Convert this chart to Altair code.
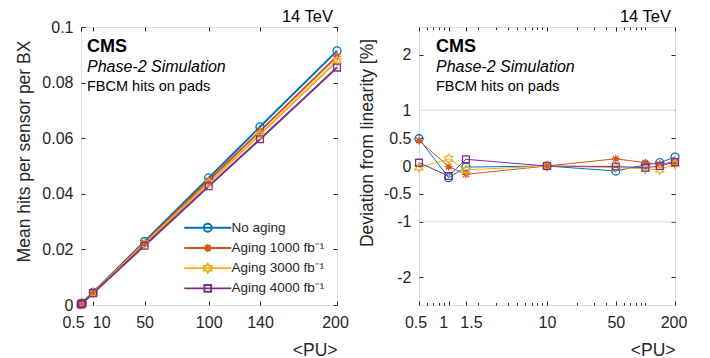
import altair as alt
import pandas as pd
import math

# ---------------- data ----------------
pu = [0.5, 1, 1.5, 10, 50, 100, 140, 200]
series = ["No aging", "Aging 1000 fb\u207b\u00b9", "Aging 3000 fb\u207b\u00b9", "Aging 4000 fb\u207b\u00b9"]

hits_no = [0.00023, 0.00046, 0.00069, 0.00457, 0.02284, 0.04570, 0.06410, 0.09140]
hits_1000 = [0.00022, 0.00045, 0.00067, 0.00448, 0.02240, 0.04478, 0.06255, 0.08950]
hits_3000 = [0.00022, 0.00044, 0.00066, 0.00439, 0.02195, 0.04390, 0.06130, 0.08780]
hits_4000 = [0.00021, 0.00043, 0.00064, 0.00427, 0.02135, 0.04270, 0.05960, 0.08540]

dev_no = [0.49, -0.21, -0.02, 0.00, -0.09, 0.02, 0.06, 0.16]
dev_1000 = [0.46, -0.01, -0.15, 0.00, 0.13, 0.06, 0.03, 0.08]
dev_3000 = [-0.03, 0.13, -0.07, 0.00, -0.03, -0.05, -0.07, 0.04]
dev_4000 = [0.06, -0.18, 0.12, 0.00, -0.01, -0.03, 0.00, 0.07]

left_xticks = [0.5, 10, 50, 100, 140, 200]
left_yticks = [0, 0.02, 0.04, 0.06, 0.08, 0.1]
right_xticks = [0.5, 1, 1.5, 10, 50, 200]
right_xminor = [0.6, 0.7, 0.8, 0.9, 2, 3, 4, 5, 6, 7, 8, 9, 20, 30, 40, 60, 70, 80, 90, 100]
right_yticks = [-2, -1, -0.5, 0, 0.5, 1, 2]
grid_y = [-1, 1]
annot_lines = ["CMS", "Phase-2 Simulation", "FBCM hits on pads"]
energy_label = "14 TeV"

# tick label groups (label nudges in px, as drawn in the reference)
left_label_groups = [(-8, [0.5]), (8, [10]), (0, [50, 100, 140]), (-2, [200])]
right_label_groups = [(-3.5, [0.5]), (-5.5, [1]), (5, [1.5]), (0, [10, 50]), (-1.5, [200])]

colors = ["#0072BD", "#D95319", "#EDB120", "#7E2F8E"]
FONT = "Liberation Sans"
INK = "#262626"
W, H = 256, 278

hits = [hits_no, hits_1000, hits_3000, hits_4000]
devs = [dev_no, dev_1000, dev_3000, dev_4000]

rows = []
for s, h, d in zip(series, hits, devs):
    for x, hv, dv in zip(pu, h, d):
        rows.append({"pu": x, "series": s, "hits": hv, "dev": dv})
df = pd.DataFrame(rows)


# ---------------- marker paths ----------------
def f(v):
    return f"{v:.3f}".rstrip("0").rstrip(".")


def circle(r):
    return f"M{f(-r)},0A{f(r)},{f(r)} 0 1,0 {f(r)},0A{f(r)},{f(r)} 0 1,0 {f(-r)},0Z"


def asterisk(r):
    d = r * 0.7071
    return (f"M{f(-r)},0H{f(r)}M0,{f(-r)}V{f(r)}"
            f"M{f(-d)},{f(-d)}L{f(d)},{f(d)}M{f(-d)},{f(d)}L{f(d)},{f(-d)}")


def hexagram(r):
    pts = []
    for k in range(12):
        a = math.radians(-90 + 30 * k)
        rr = r if k % 2 == 0 else r * 0.577
        pts.append((rr * math.cos(a), rr * math.sin(a)))
    return "M" + "L".join(f"{f(x)},{f(y)}" for x, y in pts) + "Z"


def square(r):
    return f"M{f(-r)},{f(-r)}H{f(r)}V{f(r)}H{f(-r)}Z"


shape_funcs = [circle, asterisk, hexagram, square]
marker_scale = [1.0, 1.0, 1.15, 0.85]
marker_paths = [fn(s) for fn, s in zip(shape_funcs, marker_scale)]
legend_paths = ["M-4.7,0H4.7" + fn(0.8 * s) for fn, s in zip(shape_funcs, marker_scale)]

common = dict(domain=False, grid=False, labelFont=FONT, labelFontSize=16,
              labelColor=INK, tickColor=INK, titleFont=FONT, titleColor=INK,
              titleFontWeight="normal", titleFontSize=17.5, labelOverlap=False,
              labelFlush=False)


def panel(field, xscale, yscale, xticks, label_groups, yticks, ytitle, ytitle_y,
          line_w, legend_x, legend_y, text_x, minor=None, grid=None, ytitle_pad=10):
    layers = []

    def axis_layer(xaxis, yaxis):
        enc = dict(x=alt.X("pu:Q", scale=xscale, axis=xaxis))
        enc["y"] = alt.Y(f"{field}:Q", scale=yscale, axis=yaxis)
        return alt.Chart(df).mark_point(opacity=0).encode(**enc)

    if grid is not None:
        gdf = pd.DataFrame({"g": grid})
        layers.append(alt.Chart(gdf).mark_rule(color="#e3e3e3", strokeWidth=1.2).encode(
            y=alt.Y("g:Q", scale=yscale, axis=None)))
    for i, s in enumerate(series):
        sub = df[df.series == s]
        layers.append(alt.Chart(sub).mark_line(color=colors[i], strokeWidth=line_w).encode(
            x=alt.X("pu:Q", scale=xscale, axis=None),
            y=alt.Y(f"{field}:Q", scale=yscale, axis=None)))
    for i, s in enumerate(series):
        sub = df[df.series == s]
        layers.append(alt.Chart(sub).mark_point(
            shape=marker_paths[i], size=64, filled=False, opacity=1,
            strokeWidth=1.3, color=colors[i]).encode(
            x=alt.X("pu:Q", scale=xscale, axis=None),
            y=alt.Y(f"{field}:Q", scale=yscale, axis=None)))

    # bottom ticks + left axis
    layers.append(axis_layer(
        alt.Axis(orient="bottom", values=xticks, labels=False, title=None,
                 tickSize=4, offset=-4, **common),
        alt.Axis(orient="left", values=yticks, labelExpr="toString(datum.value)",
                 title=ytitle, titleY=ytitle_y, tickSize=4, offset=-4, labelPadding=8,
                 titlePadding=ytitle_pad, **common)))
    # bottom labels, in groups with their nudges
    for off, vals in label_groups:
        has_title = (off == 0)
        layers.append(axis_layer(
            alt.Axis(orient="bottom", values=vals, labelExpr="toString(datum.value)",
                     ticks=False, labelOffset=off, labelPadding=9,
                     title="<PU>" if has_title else None, titleAnchor="end",
                     titlePadding=11, **common),
            None))
    # top + right axes (ticks only)
    layers.append(axis_layer(
        alt.Axis(orient="top", values=xticks, labels=False, title=None,
                 tickSize=4, offset=-4, **common),
        alt.Axis(orient="right", values=yticks, labels=False, title=None,
                 tickSize=4, offset=-4, **common)))
    if minor is not None:
        for orient in ["bottom", "top"]:
            layers.append(axis_layer(
                alt.Axis(orient=orient, values=minor, labels=False, title=None,
                         tickSize=2.5, offset=-2.5, **common),
                None))

    # legend layer (no visible marks)
    leg = alt.Legend(title=None, orient="none", legendX=legend_x, legendY=legend_y,
                     symbolSize=100, symbolStrokeWidth=line_w * 0.8 + 0.3,
                     labelFont=FONT, labelFontSize=13.5, labelColor=INK,
                     labelOffset=17, rowPadding=3.2, padding=0, symbolOpacity=1)
    layers.append(alt.Chart(df).transform_filter("false").mark_point(
        filled=False, size=100, opacity=1).encode(
        color=alt.Color("series:N", scale=alt.Scale(domain=series, range=colors), legend=leg),
        shape=alt.Shape("series:N", scale=alt.Scale(domain=series, range=legend_paths), legend=leg)))

    # annotation text
    styles = [dict(fontSize=18, fontWeight="bold"),
              dict(fontSize=16, fontStyle="italic"),
              dict(fontSize=14.5)]
    ys = [25, 45, 64]
    for t, st, yy in zip(annot_lines, styles, ys):
        tdf = pd.DataFrame({"t": [t]})
        layers.append(alt.Chart(tdf).mark_text(
            align="left", baseline="alphabetic", font=FONT, color="black", **st).encode(
            text="t:N", x=alt.value(text_x), y=alt.value(yy)))
    edf = pd.DataFrame({"t": [energy_label]})
    layers.append(alt.Chart(edf).mark_text(
        align="right", baseline="alphabetic", font=FONT, color="black", fontSize=16.5).encode(
        text="t:N", x=alt.value(W - 4), y=alt.value(-5)))

    return alt.layer(*layers).resolve_axis(x="independent", y="independent").properties(
        width=W, height=H)


left = panel("hits",
             alt.Scale(domain=[0.5, 200], zero=False, nice=False),
             alt.Scale(domain=[0, 0.1], nice=False),
             left_xticks, left_label_groups, left_yticks,
             "Mean hits per sensor per BX", 124, 2.0,
             legend_x=120, legend_y=194, text_x=6, ytitle_pad=8)

right = panel("dev",
              alt.Scale(type="log", domain=[0.5, 200], nice=False),
              alt.Scale(domain=[-2.5, 2.5], nice=False),
              right_xticks, right_label_groups, right_yticks,
              "Deviation from linearity [%]", 115.5, 1.0,
              legend_x=120, legend_y=194, text_x=17, minor=right_xminor, grid=grid_y,
              ytitle_pad=7)

chart = alt.hconcat(left, right, spacing=8).properties(
    padding={"left": 7, "top": 0, "right": 5, "bottom": 0}
).configure_view(stroke=INK, strokeWidth=1).configure(background="white")

chart.save("out.html", embed_options={"renderer": "svg", "actions": False})
